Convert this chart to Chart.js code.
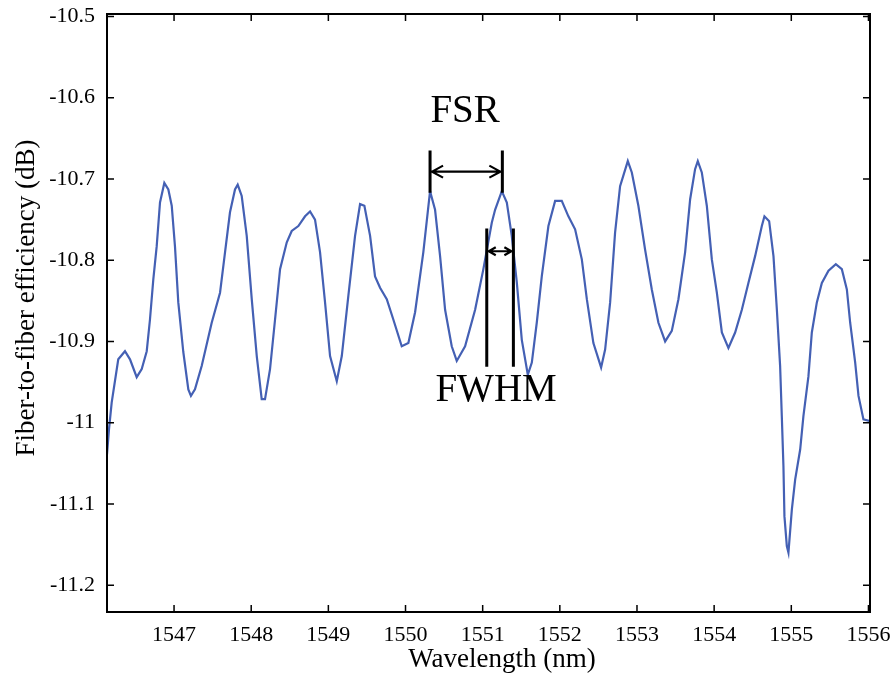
<!DOCTYPE html>
<html>
<head>
<meta charset="utf-8">
<script src="https://cdn.jsdelivr.net/npm/chart.js@4.4.1/dist/chart.umd.min.js"></script>
<style>
  html, body { margin: 0; padding: 0; background: #fff; }
  #wrap { width: 891px; height: 679px; }
</style>
</head>
<body>
<div id="wrap"><canvas id="chartSpectrum" width="891" height="679"></canvas></div>
<script>
// wavelength (nm)
const wavelength = [
  1546.131, 1546.157, 1546.192, 1546.277, 1546.364, 1546.429, 1546.516, 1546.581, 1546.646, 1546.688,
  1546.731, 1546.775, 1546.818, 1546.874, 1546.926, 1546.970, 1547.012, 1547.055, 1547.120, 1547.185,
  1547.219, 1547.271, 1547.359, 1547.488, 1547.596, 1547.661, 1547.725, 1547.790, 1547.825, 1547.877,
  1547.942, 1548.007, 1548.072, 1548.136, 1548.179, 1548.244, 1548.309, 1548.374, 1548.461, 1548.525,
  1548.611, 1548.698, 1548.763, 1548.827, 1548.892, 1548.957, 1549.022, 1549.109, 1549.174, 1549.259,
  1549.346, 1549.411, 1549.467, 1549.541, 1549.605, 1549.670, 1549.757, 1549.842, 1549.951, 1550.037,
  1550.124, 1550.231, 1550.318, 1550.383, 1550.448, 1550.513, 1550.599, 1550.664, 1550.772, 1550.902,
  1551.009, 1551.118, 1551.161, 1551.248, 1551.313, 1551.377, 1551.442, 1551.507, 1551.585, 1551.637,
  1551.701, 1551.766, 1551.852, 1551.939, 1552.025, 1552.111, 1552.198, 1552.285, 1552.350, 1552.435,
  1552.535, 1552.587, 1552.652, 1552.716, 1552.781, 1552.881, 1552.933, 1553.018, 1553.105, 1553.192,
  1553.278, 1553.365, 1553.451, 1553.537, 1553.624, 1553.689, 1553.753, 1553.788, 1553.840, 1553.905,
  1553.970, 1554.035, 1554.100, 1554.185, 1554.272, 1554.359, 1554.444, 1554.531, 1554.618, 1554.652,
  1554.713, 1554.769, 1554.813, 1554.855, 1554.877, 1554.898, 1554.911, 1554.942, 1554.963, 1555.007,
  1555.050, 1555.115, 1555.157, 1555.222, 1555.266, 1555.331, 1555.396, 1555.482, 1555.577, 1555.655,
  1555.720, 1555.763, 1555.828, 1555.871, 1555.935, 1556.022
];

// fiber-to-fiber efficiency (dB)
const efficiency = [
  -11.039, -11.008, -10.975, -10.922, -10.912, -10.922, -10.944, -10.934, -10.912, -10.873,
  -10.824, -10.783, -10.729, -10.705, -10.713, -10.733, -10.783, -10.852, -10.913, -10.959,
  -10.967, -10.959, -10.930, -10.877, -10.840, -10.790, -10.741, -10.713, -10.707, -10.721,
  -10.770, -10.848, -10.918, -10.971, -10.971, -10.934, -10.873, -10.811, -10.778, -10.764,
  -10.758, -10.746, -10.740, -10.750, -10.790, -10.852, -10.918, -10.949, -10.918, -10.844,
  -10.770, -10.731, -10.733, -10.770, -10.820, -10.834, -10.848, -10.873, -10.906, -10.902,
  -10.864, -10.790, -10.715, -10.738, -10.795, -10.861, -10.906, -10.924, -10.906, -10.861,
  -10.811, -10.754, -10.738, -10.715, -10.729, -10.770, -10.827, -10.898, -10.941, -10.926,
  -10.877, -10.820, -10.758, -10.727, -10.727, -10.746, -10.762, -10.799, -10.848, -10.902,
  -10.932, -10.910, -10.852, -10.766, -10.709, -10.678, -10.692, -10.733, -10.787, -10.836,
  -10.877, -10.900, -10.887, -10.848, -10.790, -10.725, -10.688, -10.678, -10.692, -10.733,
  -10.799, -10.840, -10.889, -10.908, -10.889, -10.861, -10.828, -10.795, -10.758, -10.746,
  -10.752, -10.795, -10.861, -10.930, -10.992, -11.053, -11.115, -11.152, -11.160, -11.107,
  -11.070, -11.033, -10.992, -10.943, -10.889, -10.852, -10.828, -10.813, -10.805, -10.811,
  -10.836, -10.877, -10.926, -10.967, -10.996, -10.998
];

const xTicks = [1547, 1548, 1549, 1550, 1551, 1552, 1553, 1554, 1555, 1556];
const yTicks = [-10.5, -10.6, -10.7, -10.8, -10.9, -11, -11.1, -11.2];

// FSR / FWHM markers in data units
const markers = {
  fsr:  { x1: 1550.318, x2: 1551.255, yTop: -10.665, yBottom: -10.717, yArrow: -10.691 },
  fwhm: { x1: 1551.053, x2: 1551.398, yTop: -10.761, yBottom: -10.931, yArrow: -10.789 },
  fsrLabel:  { x: 1550.772, y: -10.617, text: 'FSR' },
  fwhmLabel: { x: 1551.174, y: -10.961, text: 'FWHM' }
};

const serif = "'Liberation Serif', 'Times New Roman', serif";

function arrowHead(ctx, x, y, dir, len, half) {
    ctx.moveTo(x - dir * len, y - half);
    ctx.lineTo(x, y);
    ctx.lineTo(x - dir * len, y + half);
}

const framePlugin = {
    id: 'frame',
    afterDraw(chart) {
        const { ctx, chartArea: a, scales: { x, y } } = chart;
        ctx.save();
        ctx.strokeStyle = '#000';
        ctx.lineWidth = 2;
        ctx.strokeRect(a.left, a.top, a.right - a.left, a.bottom - a.top);

        // inward tick marks on all four sides
        ctx.lineWidth = 1.5;
        ctx.beginPath();
        x.ticks.forEach(t => {
            const px = x.getPixelForValue(t.value);
            ctx.moveTo(px, a.bottom); ctx.lineTo(px, a.bottom - 7);
            ctx.moveTo(px, a.top); ctx.lineTo(px, a.top + 7);
        });
        y.ticks.forEach(t => {
            const py = y.getPixelForValue(t.value);
            ctx.moveTo(a.left, py); ctx.lineTo(a.left + 7, py);
            ctx.moveTo(a.right, py); ctx.lineTo(a.right - 7, py);
        });
        ctx.stroke();

        // FSR / FWHM markers
        const drawMarker = (m, head) => {
            const x1 = x.getPixelForValue(m.x1), x2 = x.getPixelForValue(m.x2);
            const yt = y.getPixelForValue(m.yTop), yb = y.getPixelForValue(m.yBottom);
            const ya = y.getPixelForValue(m.yArrow);
            ctx.lineWidth = 3;
            ctx.beginPath();
            ctx.moveTo(x1, yt); ctx.lineTo(x1, yb);
            ctx.moveTo(x2, yt); ctx.lineTo(x2, yb);
            ctx.stroke();
            ctx.lineWidth = 2.2;
            ctx.beginPath();
            ctx.moveTo(x1 + 1, ya); ctx.lineTo(x2 - 1, ya);
            arrowHead(ctx, x1 + 2, ya, -1, head[0], head[1]);
            arrowHead(ctx, x2 - 2, ya, 1, head[0], head[1]);
            ctx.stroke();
        };
        drawMarker(markers.fsr, [11, 6]);
        drawMarker(markers.fwhm, [7, 4]);

        ctx.fillStyle = '#000';
        ctx.font = '39px ' + serif;
        ctx.textAlign = 'center';
        ctx.textBaseline = 'middle';
        [markers.fsrLabel, markers.fwhmLabel].forEach(l => {
            ctx.fillText(l.text, x.getPixelForValue(l.x), y.getPixelForValue(l.y));
        });

        // axis titles
        ctx.font = '27px ' + serif;
        ctx.fillText('Wavelength (nm)', 502, 660);
        ctx.translate(27, 298);
        ctx.rotate(-Math.PI / 2);
        ctx.fillText('Fiber-to-fiber efficiency (dB)', 0, 0);
        ctx.restore();
    }
};

const ctx = document.getElementById('chartSpectrum').getContext('2d');
new Chart(ctx, {
    type: 'line',
    data: {
        datasets: [{
            label: 'Fiber-to-fiber efficiency',
            data: wavelength.map((w, i) => ({ x: w, y: efficiency[i] })),
            borderColor: '#4460b4',
            borderWidth: 2.2,
            pointRadius: 0,
            tension: 0,
            fill: false
        }]
    },
    options: {
        responsive: false,
        animation: false,
        layout: { padding: { left: 0, right: 21, top: 14, bottom: 0 } },
        plugins: {
            legend: { display: false },
            tooltip: { enabled: false }
        },
        scales: {
            x: {
                type: 'linear',
                min: 1546.131,
                max: 1556.02,
                afterBuildTicks: s => { s.ticks = xTicks.map(v => ({ value: v })); },
                afterFit: s => { s.height = 67; s.paddingLeft = 0; s.paddingRight = 0; },
                grid: { display: false, drawTicks: false },
                border: { display: false },
                ticks: {
                    padding: 10,
                    color: '#000',
                    font: { family: serif, size: 22 },
                    maxRotation: 0,
                    callback: v => String(v)
                }
            },
            y: {
                min: -11.233,
                max: -10.497,
                afterBuildTicks: s => { s.ticks = yTicks.map(v => ({ value: v })); },
                afterFit: s => { s.width = 107; s.paddingTop = 0; s.paddingBottom = 0; },
                grid: { display: false, drawTicks: false },
                border: { display: false },
                ticks: {
                    padding: 12,
                    color: '#000',
                    font: { family: serif, size: 22 },
                    callback: v => String(Number(v.toFixed(1)))
                }
            }
        }
    },
    plugins: [framePlugin]
});
</script>
</body>
</html>
